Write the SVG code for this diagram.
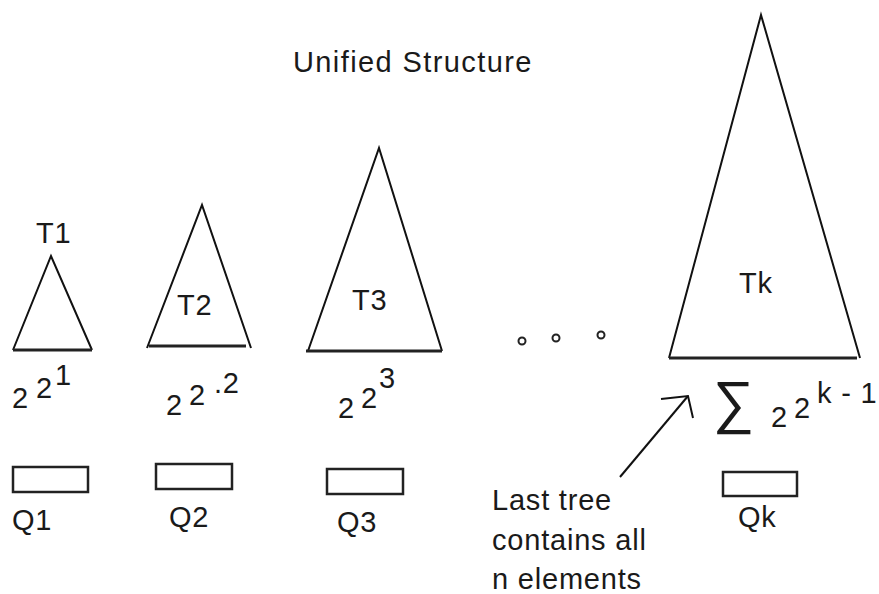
<svg xmlns="http://www.w3.org/2000/svg" width="879" height="594" viewBox="0 0 879 594">
  <style>
    .tree { fill: none; stroke: #111; stroke-width: 2; stroke-linejoin: miter; }
    .base { stroke: #222; stroke-width: 3; }
    .queue { fill: #fff; stroke: #222; stroke-width: 2.5; }
    .dot { fill: none; stroke: #222; stroke-width: 2; }
    .conn { fill: none; stroke: #111; stroke-width: 2; }
    text { font-family: "Liberation Sans", Arial, sans-serif; font-size: 29px; fill: #1a1a1a; letter-spacing: 0.8px; }
    .sum { font-family: "Liberation Sans", "DejaVu Sans", sans-serif; font-size: 58px; }
  </style>
  <rect width="879" height="594" fill="#fff"/>

  <text id="title" x="293" y="72" style="letter-spacing:1.4px">Unified Structure</text>

  <!-- tree T1 with size 2^2^1 and queue Q1 -->
  <g id="tree1">
    <polyline class="tree" points="13,350 51,256 92,350"/>
    <line class="base" x1="13" y1="350" x2="92" y2="350"/>
    <text x="36" y="243">T1</text>
    <text x="12" y="408">2</text>
    <text x="36" y="398">2</text>
    <text x="55" y="385">1</text>
  </g>
  <g id="queue1">
    <rect class="queue" x="13" y="467" width="75" height="25"/>
    <text x="12" y="530">Q1</text>
  </g>

  <!-- tree T2 -->
  <g id="tree2">
    <polyline class="tree" points="147,348 202,205 251,348"/>
    <line class="base" x1="149" y1="346" x2="246" y2="346"/>
    <text x="177" y="315">T2</text>
    <text x="166" y="415">2</text>
    <text x="189" y="405">2</text>
    <text x="214" y="393">.2</text>
  </g>
  <g id="queue2">
    <rect class="queue" x="156" y="464" width="76" height="25"/>
    <text x="169" y="527">Q2</text>
  </g>

  <!-- tree T3 -->
  <g id="tree3">
    <polyline class="tree" points="308,351 379,148 442,351"/>
    <line class="base" x1="306" y1="351" x2="442" y2="351"/>
    <text x="352" y="310">T3</text>
    <text x="338" y="418">2</text>
    <text x="361" y="408">2</text>
    <text x="379" y="388">3</text>
  </g>
  <g id="queue3">
    <rect class="queue" x="327" y="469" width="76" height="25"/>
    <text x="337" y="532">Q3</text>
  </g>

  <!-- ellipsis between T3 and Tk -->
  <g id="ellipsis">
    <circle class="dot" cx="522" cy="341" r="3.5"/>
    <circle class="dot" cx="556" cy="338" r="3.5"/>
    <circle class="dot" cx="601" cy="335" r="3.5"/>
  </g>

  <!-- last tree Tk -->
  <g id="treek">
    <polyline class="tree" points="669,358 761,15 860,358"/>
    <line class="base" x1="669" y1="358" x2="857" y2="358"/>
    <text x="739" y="293">Tk</text>
    <text class="sum" x="713" y="422">∑</text>
    <text x="771" y="427">2</text>
    <text x="794" y="418">2</text>
    <text x="817" y="403">k - 1</text>
  </g>
  <g id="queuek">
    <rect class="queue" x="723" y="472" width="74" height="24"/>
    <text x="738" y="527">Qk</text>
  </g>

  <!-- note -->
  <g id="note">
    <text x="492" y="510">Last tree</text>
    <text x="492" y="550">contains all</text>
    <text x="492" y="589">n elements</text>
  </g>

  <g id="connectors">
    <line class="conn" x1="620" y1="477" x2="688" y2="396"/>
    <polyline class="conn" points="661,399 688,396 693,418"/>
  </g>
</svg>
